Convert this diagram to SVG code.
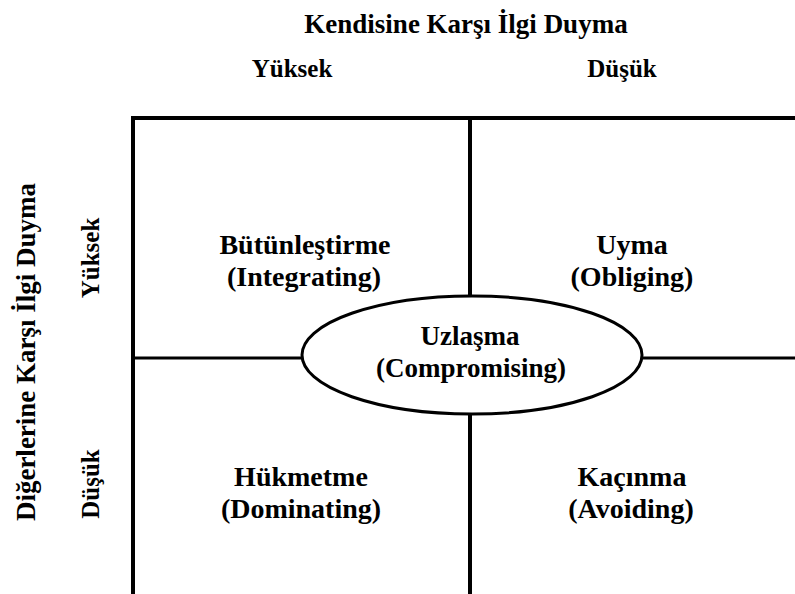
<svg xmlns="http://www.w3.org/2000/svg" width="795" height="594" viewBox="0 0 795 594">
  <style>
    text { font-weight: bold; fill: #000; text-anchor: middle; }
    .axis { font-size: 27px; }
    .level { font-size: 25px; }
    .label { font-size: 28px; }
    .mid { font-size: 27px; }
    .grid { stroke: #000; fill: none; }
  </style>
  <rect width="795" height="594" fill="#fff"/>

  <g font-family="Liberation Serif, Times New Roman, DejaVu Serif, serif">
  <!-- Axis titles -->
  <g id="axis-self">
    <text class="axis" x="466" y="33">Kendisine Karşı İlgi Duyma</text>
    <text class="level" x="292" y="77">Yüksek</text>
    <text class="level" x="622" y="77">Düşük</text>
  </g>
  <g id="axis-others">
    <text class="axis" transform="translate(35,352) rotate(-90)">Diğerlerine Karşı İlgi Duyma</text>
    <text class="level" transform="translate(99,258) rotate(-90)">Yüksek</text>
    <text class="level" transform="translate(99,484) rotate(-90)">Düşük</text>
  </g>

  <!-- Grid lines dividing the four quadrants -->
  <g id="connectors" class="grid">
    <line x1="131" y1="118" x2="795" y2="118" stroke-width="4"/>
    <line x1="133" y1="116" x2="133" y2="594" stroke-width="4"/>
    <line x1="470" y1="116" x2="470" y2="594" stroke-width="4"/>
    <line x1="133" y1="358" x2="795" y2="358" stroke-width="3"/>
  </g>

  <!-- Quadrants -->
  <g id="integrating">
    <text class="label" x="305" y="254">Bütünleştirme</text>
    <text class="label" x="304" y="286">(Integrating)</text>
  </g>
  <g id="obliging">
    <text class="label" x="632" y="254">Uyma</text>
    <text class="label" x="632" y="286">(Obliging)</text>
  </g>
  <g id="dominating">
    <text class="label" x="301" y="486">Hükmetme</text>
    <text class="label" x="301" y="518">(Dominating)</text>
  </g>
  <g id="avoiding">
    <text class="label" x="632" y="486">Kaçınma</text>
    <text class="label" x="631" y="518">(Avoiding)</text>
  </g>

  <!-- Central compromise ellipse -->
  <g id="compromising">
    <ellipse cx="472" cy="355" rx="170" ry="59" fill="#fff" stroke="#000" stroke-width="3"/>
    <text class="mid" x="470" y="345">Uzlaşma</text>
    <text class="mid" x="471" y="377">(Compromising)</text>
  </g>
  </g>
</svg>
